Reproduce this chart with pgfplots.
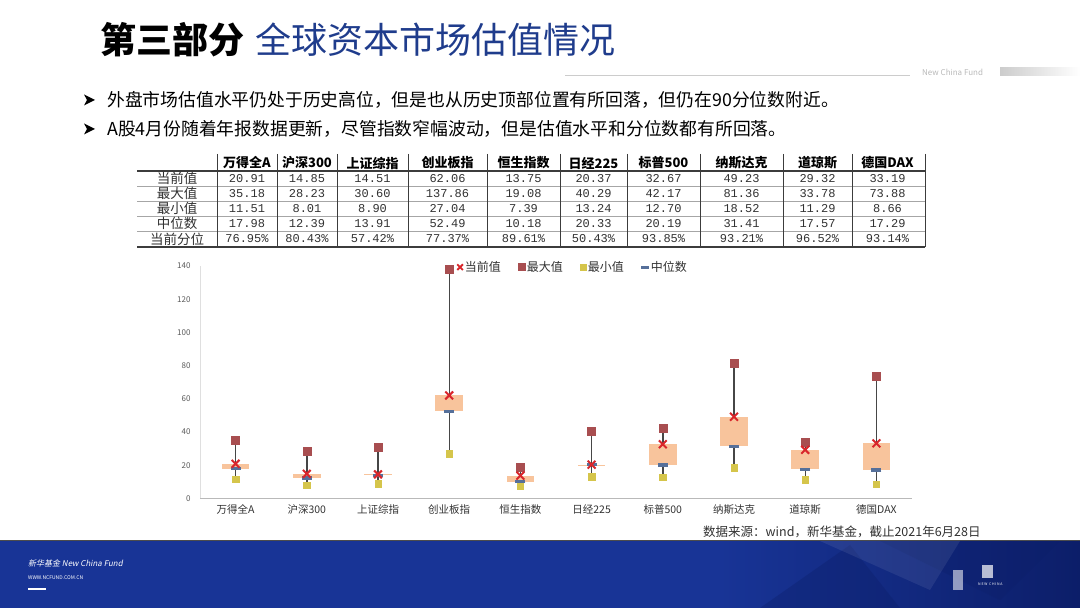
\documentclass[border=0pt]{standalone}
\usepackage{fontspec}
\setmainfont{Noto Sans CJK SC}
\newfontfamily\mono{Liberation Mono}
\newfontfamily\cjkit{Noto Sans CJK SC}[FakeSlant=0.2]
\usepackage{pgfplots}
\pgfplotsset{compat=1.18}
\usepgfplotslibrary{statistics}
\usepackage{pgfplotstable}

\definecolor{titleblue}{RGB}{31,60,140}
\definecolor{boxc}{RGB}{248,196,156}
\definecolor{whc}{RGB}{70,70,70}
\definecolor{curc}{RGB}{217,38,43}
\definecolor{hic}{RGB}{168,78,80}
\definecolor{loc}{RGB}{213,197,75}
\definecolor{medc}{RGB}{86,112,154}
\definecolor{labc}{RGB}{50,50,50}
\definecolor{ytc}{RGB}{90,90,90}
\definecolor{footblue}{RGB}{24,52,150}
\definecolor{footdark}{RGB}{12,30,105}
\definecolor{tabline}{RGB}{60,60,60}

\pgfplotstableread{
x cur hi lo med
0 20.91 35.18 11.51 17.98
1 14.85 28.23 8.01 12.39
2 14.51 30.60 8.90 13.91
3 62.06 137.86 27.04 52.49
4 13.75 19.08 7.39 10.18
5 20.37 40.29 13.24 20.33
6 32.67 42.17 12.70 20.19
7 49.23 81.36 18.52 31.41
8 29.32 33.78 11.29 17.57
9 33.19 73.88 8.66 17.29
}\valdata

\pgfplotsset{bx/.style n args={5}{forget plot, draw=whc, line width=1.4pt,
  boxplot/draw direction=y,
  boxplot prepared={draw position=#1, lower whisker=#2, lower quartile=#3,
    median=#3, upper quartile=#4, upper whisker=#5, box extend=0.39, whisker extend=0},
  boxplot/every box/.style={draw=none, fill=boxc},
  boxplot/every whisker/.style={draw=whc, line width=1.4pt},
  boxplot/every median/.style={draw=none}}}

\begin{document}
\begin{tikzpicture}
\useasboundingbox (0,0) rectangle (1080pt,608pt);
\fill[white] (0,0) rectangle (1080pt,608pt);
\begin{scope}[x=1pt,y=-1pt,yshift=608pt]
  % title
  \node[anchor=west, inner sep=0] at (100,40) {\fontsize{36}{40}\selectfont\bfseries 第三部分};
  \node[anchor=west, inner sep=0, text=titleblue] at (255,40) {\fontsize{36}{40}\selectfont 全球资本市场估值情况};
  % header right
  \draw[gray!40, line width=1pt] (565,75.5) -- (910,75.5);
  \node[anchor=west, inner sep=0, text=gray!55] at (922,72) {\fontsize{8}{9}\selectfont New China Fund};
  \shade[left color=gray!40, right color=white] (1000,68) rectangle (1080,76);
  % bullets
  \foreach \yy in {100,129} {
    \fill[black] (84,\yy-5.5) -- (95,\yy) -- (84,\yy+5.5) -- (87,\yy) -- cycle;
  }
  \node[anchor=west, inner sep=0] at (107,100) {\fontsize{17.8}{20}\selectfont 外盘市场估值水平仍处于历史高位，但是也从历史顶部位置有所回落，但仍在90分位数附近。};
  \node[anchor=west, inner sep=0] at (107,129) {\fontsize{17.8}{20}\selectfont A股4月份随着年报数据更新，尽管指数窄幅波动，但是估值水平和分位数都有所回落。};
  % table lines
  \foreach \yy in {186,201,216,231} \draw[gray!70, line width=0.6pt] (137,\yy) -- (925,\yy);
  \draw[tabline, line width=1.3pt] (137,171) -- (925,171);
  \draw[tabline, line width=1.3pt] (137,247) -- (925,247);
  \foreach \xx in {217,277,337,408,487,560,627,700,783,852,925}
    \draw[tabline, line width=0.7pt] (\xx,154) -- (\xx,247);
  % row labels
  \foreach \yy/\t in {178.5/当前值,193.5/最大值,208.5/最小值,223.5/中位数,239/当前分位}
    \node[inner sep=0, text=labc] at (177,\yy) {\fontsize{13.5}{15}\selectfont \t};
  % columns
  \foreach \cx/\h/\a/\b/\c/\d/\e in {
    247/万得全A/20.91/35.18/11.51/17.98/76.95\%,
    307/沪深300/14.85/28.23/8.01/12.39/80.43\%,
    372.5/上证综指/14.51/30.60/8.90/13.91/57.42\%,
    447.5/创业板指/62.06/137.86/27.04/52.49/77.37\%,
    523.5/恒生指数/13.75/19.08/7.39/10.18/89.61\%,
    593.5/日经225/20.37/40.29/13.24/20.33/50.43\%,
    663.5/标普500/32.67/42.17/12.70/20.19/93.85\%,
    741.5/纳斯达克/49.23/81.36/18.52/31.41/93.21\%,
    817.5/道琼斯/29.32/33.78/11.29/17.57/96.52\%,
    887.5/德国DAX/33.19/73.88/8.66/17.29/93.14\%} {
    \node[inner sep=0] at (\cx,163) {\fontsize{13}{15}\selectfont\bfseries \h};
    \node[inner sep=0, text=labc] at (\cx,178.5) {\mono\fontsize{12}{14}\selectfont \a};
    \node[inner sep=0, text=labc] at (\cx,193.5) {\mono\fontsize{12}{14}\selectfont \b};
    \node[inner sep=0, text=labc] at (\cx,208.5) {\mono\fontsize{12}{14}\selectfont \c};
    \node[inner sep=0, text=labc] at (\cx,223.5) {\mono\fontsize{12}{14}\selectfont \d};
    \node[inner sep=0, text=labc] at (\cx,239) {\mono\fontsize{12}{14}\selectfont \e};
  }
  % source
  \node[anchor=west, inner sep=0, text=labc] at (703,532) {\fontsize{12.5}{14}\selectfont 数据来源：wind，新华基金，截止2021年6月28日};
  % footer
  \fill[footblue] (0,541) rectangle (1080,608);
  \shade[left color=footblue, right color=footdark] (720,541) rectangle (1080,608);
  \fill[footdark, opacity=0.35] (760,608) -- (850,545) -- (900,608) -- cycle;
  \fill[footdark, opacity=0.3] (880,541) -- (1000,600) -- (1060,541) -- cycle;
  \fill[white, opacity=0.08] (820,541) -- (930,590) -- (960,541) -- cycle;
  \draw[gray!60!black, line width=1pt] (0,541) -- (1080,541);
  \fill[white, opacity=0.55] (953,570) rectangle (963,590);
  \fill[white, opacity=0.7] (982,565) rectangle (993,578);
  \node[anchor=west, inner sep=0, text=white] at (978,584) {\fontsize{3.5}{4}\selectfont N E W \ C H I N A};
  \node[anchor=west, inner sep=0, text=white] at (28,563) {\cjkit\fontsize{8}{9}\selectfont 新华基金 New China Fund};
  \node[anchor=west, inner sep=0, text=white] at (28,578) {\fontsize{5}{6}\selectfont WWW.NCFUND.COM.CN};
  \draw[white, line width=2pt] (28,589) -- (46,589);
\end{scope}

\begin{axis}[
  at={(200pt,109.5pt)}, anchor=south west, scale only axis,
  width=712pt, height=232.5pt,
  xmin=-0.5, xmax=9.5, ymin=0, ymax=140,
  ytick={0,20,...,140}, xtick={0,...,9},
  xticklabels={万得全A,沪深300,上证综指,创业板指,恒生指数,日经225,标普500,纳斯达克,道琼斯,德国DAX},
  axis x line*=bottom, axis y line*=left,
  x axis line style={-, draw=gray!55, line width=0.8pt},
  y axis line style={-, draw=gray!25, line width=0.8pt},
  major tick length=0pt, tick style={draw=none},
  x tick label style={font=\fontsize{10.5}{12}\selectfont, text=labc, yshift=-3pt},
  y tick label style={font=\fontsize{8}{10}\selectfont, text=ytc, xshift=-6pt},
  /pgf/number format/assume math mode=true,
  clip=false,
  legend columns=4,
  legend style={at={(0.524,0.995)}, anchor=center, draw=none, fill=none,
    font=\fontsize{12}{14}\selectfont, text=labc,
    /tikz/every even column/.append style={column sep=15pt}},
]
\addplot[bx={0}{11.51}{17.98}{20.91}{35.18}] coordinates {};
\addplot[bx={1}{8.01}{12.39}{14.85}{28.23}] coordinates {};
\addplot[bx={2}{8.90}{13.91}{14.51}{30.60}] coordinates {};
\addplot[bx={3}{27.04}{52.49}{62.06}{137.86}] coordinates {};
\addplot[bx={4}{7.39}{10.18}{13.75}{19.08}] coordinates {};
\addplot[bx={5}{13.24}{20.33}{20.37}{40.29}] coordinates {};
\addplot[bx={6}{12.70}{20.19}{32.67}{42.17}] coordinates {};
\addplot[bx={7}{18.52}{31.41}{49.23}{81.36}] coordinates {};
\addplot[bx={8}{11.29}{17.57}{29.32}{33.78}] coordinates {};
\addplot[bx={9}{8.66}{17.29}{33.19}{73.88}] coordinates {};

\addplot[forget plot, only marks, mark=square*, mark size=3.2pt, color=loc] table[x=x,y=lo]{\valdata};
\addplot[forget plot, only marks, mark=square*, mark size=4pt, color=hic] table[x=x,y=hi]{\valdata};
\addplot[forget plot, only marks, mark=-, mark size=5pt, mark options={line width=3.5pt}, color=medc] table[x=x,y=med]{\valdata};
\addplot[forget plot, only marks, mark=x, mark size=5.5pt, mark options={line width=2pt}, color=curc] table[x=x,y=cur]{\valdata};

\addlegendimage{only marks, mark=x, mark size=4pt, mark options={line width=1.8pt}, color=curc}
\addlegendentry{当前值}
\addlegendimage{only marks, mark=square*, mark size=3.5pt, color=hic}
\addlegendentry{最大值}
\addlegendimage{only marks, mark=square*, mark size=3pt, color=loc}
\addlegendentry{最小值}
\addlegendimage{only marks, mark=-, mark size=4pt, mark options={line width=3pt}, color=medc}
\addlegendentry{中位数}
\end{axis}
\end{tikzpicture}
\end{document}
